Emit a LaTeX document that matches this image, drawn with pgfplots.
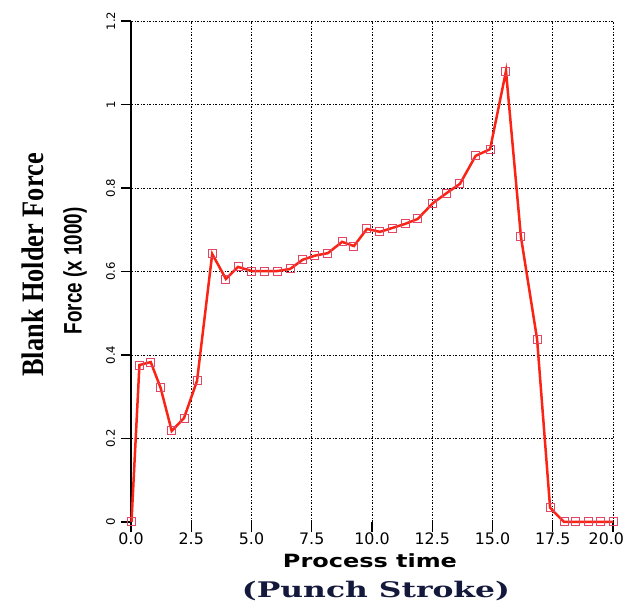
\documentclass[border=0pt]{standalone}
\usepackage{pgfplots}
\pgfplotsset{compat=1.18}
\usepackage{fontspec}
\setmainfont{Liberation Sans}
\newfontfamily\serifbold{Liberation Serif}
\newfontfamily\dejaserif{DejaVu Serif}
\newfontfamily\verdanalike{DejaVu Sans}
\definecolor{linered}{RGB}{250,35,20}
\definecolor{markpink}{RGB}{225,70,100}
\definecolor{navy}{RGB}{20,25,60}
\pgfplotstableread{
x y
0.02 0
0.35 0.376
0.82 0.383
1.23 0.321
1.69 0.218
2.20 0.249
2.74 0.338
3.37 0.642
3.94 0.582
4.44 0.611
5.02 0.601
5.56 0.601
6.06 0.601
6.60 0.606
7.12 0.628
7.63 0.638
8.17 0.644
8.76 0.671
9.25 0.661
9.79 0.702
10.33 0.695
10.83 0.704
11.37 0.714
11.90 0.726
12.53 0.764
13.10 0.788
13.65 0.810
14.30 0.877
14.90 0.893
15.56 1.080
16.18 0.683
16.85 0.438
17.39 0.034
17.97 0
18.46 0
19.00 0
19.50 0
20.00 0
}\datatable
\begin{document}
\begin{tikzpicture}
\begin{axis}[
  name=ax,
  scale only axis,
  width=289.2pt, height=300.6pt,
  xmin=0, xmax=20, ymin=0, ymax=1.2,
  axis x line=bottom, axis y line=left,
  x axis line style={draw=none,-},
  y axis line style={-,line width=1.1pt,black},
  xtick={0,2.5,...,17.5},
  xticklabels={0.0,2.5,5.0,7.5,10.0,12.5,15.0,17.5},
  extra x ticks={20},
  extra x tick labels={20.0},
  extra x tick style={xticklabel style={xshift=-4pt}},
  ytick={0.2,0.4,0.6,0.8,1,1.2},
  extra y ticks={0},
  extra y tick style={grid=none},
  yticklabels={0.2,0.4,0.6,0.8,1,1.2},
  extra y tick labels={0},
  /pgf/number format/assume math mode=true,
  tick align=outside,
  major tick length=6pt,
  tick style={black,line width=0.8pt},
  xticklabel style={font=\verdanalike\fontsize{9.5}{10}\selectfont, yshift=3pt},
  yticklabel style={font=\verdanalike\fontsize{7}{8}\selectfont, rotate=90, anchor=south},
  grid=major,
  major grid style={black, line width=0.55pt, dash pattern=on 1.2pt off 1pt on 0.4pt off 1pt},
  clip=false,
]
\addplot[linered, line width=1.5pt, mark=square, mark size=2.4pt,
  mark options={draw=markpink, line width=0.6pt, fill=none, solid}] table[x=x,y=y] {\datatable};
\end{axis}
\node[rotate=90, inner sep=0pt] at ([shift={(-59.1pt,154.2pt)}]ax.south west)
  {\resizebox{134pt}{13pt}{\serifbold\bfseries Blank Holder Force}};
\node[rotate=90, inner sep=0pt] at ([shift={(-33.6pt,150.6pt)}]ax.south west)
  {\resizebox{76pt}{11pt}{\bfseries Force (x 1000)}};
\node[inner sep=0pt, anchor=base] at ([shift={(143.4pt,-27.6pt)}]ax.south west)
  {\resizebox{104.4pt}{8.3pt}{\verdanalike\bfseries Process time}};
\node[inner sep=0pt, anchor=base, text=navy] at ([shift={(147pt,-45.6pt)}]ax.south west)
  {\resizebox{160.8pt}{9.8pt}{\dejaserif\bfseries (Punch Stroke)}};
\pgfresetboundingbox
\path[use as bounding box] ([shift={(-78.6pt,-48.6pt)}]ax.south west) rectangle ([shift={(7.8pt,12.6pt)}]ax.north east);
\end{tikzpicture}
\end{document}
